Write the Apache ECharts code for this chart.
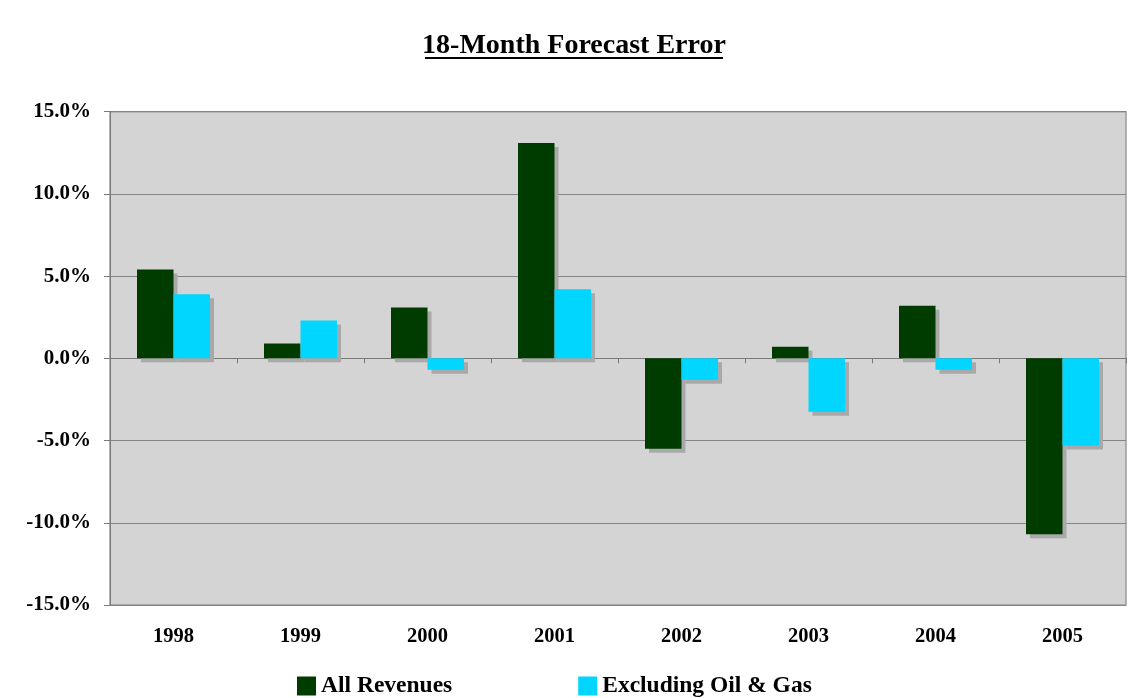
<!DOCTYPE html>
<html>
<head>
<meta charset="utf-8">
<script src="https://cdn.jsdelivr.net/npm/echarts@6/dist/echarts.min.js"></script>
<style>
html,body{margin:0;padding:0;background:#fff;}
#c{width:1133px;height:698px;}
</style>
</head>
<body>
<div id="c"></div>
<script>
var titleText = '18-Month Forecast Error';
var years = ['1998', '1999', '2000', '2001', '2002', '2003', '2004', '2005'];
var allRevenues = [5.4, 0.9, 3.1, 13.1, -5.5, 0.7, 3.2, -10.7];
var exclOilGas = [3.9, 2.3, -0.7, 4.2, -1.3, -3.25, -0.7, -5.3];
var seriesNames = ['All Revenues', 'Excluding Oil & Gas'];
var yMin = -15, yMax = 15, yStep = 5;

var FONT = '"Liberation Serif", "Times New Roman", serif';
var chart = echarts.init(document.getElementById('c'));
var shadow = { shadowColor: '#a9a9a9', shadowOffsetX: 4, shadowOffsetY: 4, shadowBlur: 0 };

chart.setOption({
  animation: false,
  backgroundColor: '#ffffff',
  graphic: [
    { type: 'text', x: 574, y: 45.5, z: 10,
      style: { text: titleText, font: 'bold 28px ' + FONT, fill: '#000',
               textAlign: 'center', textVerticalAlign: 'middle' } },
    { type: 'line', z: 10,
      shape: { x1: 425, y1: 58, x2: 723, y2: 58 },
      style: { stroke: '#000', lineWidth: 2 } }
  ],
  legend: {
    data: seriesNames,
    left: 297, top: 674, padding: 0,
    itemWidth: 19, itemHeight: 19, itemGap: 126,
    icon: 'rect',
    textStyle: { fontFamily: FONT, fontWeight: 'bold', fontSize: 23.5, lineHeight: 20, color: '#000' }
  },
  grid: {
    left: 110, top: 111.7, right: 7, bottom: 93,
    show: true, backgroundColor: '#d4d4d4', borderColor: '#9a9a9a', borderWidth: 1.5
  },
  xAxis: [
    { type: 'category', data: years, position: 'bottom',
      axisLine: { show: false, onZero: false }, axisTick: { show: false },
      axisLabel: { margin: 21, fontFamily: FONT, fontWeight: 'bold', fontSize: 20.5, color: '#000' } },
    { type: 'category', data: years, position: 'bottom',
      axisLine: { show: true, onZero: true, lineStyle: { color: '#7a7a7a', width: 1 } },
      axisTick: { show: true, length: 5, lineStyle: { color: '#7a7a7a' } },
      axisLabel: { show: false } }
  ],
  yAxis: {
    type: 'value', min: yMin, max: yMax, interval: yStep,
    axisLine: { show: true, lineStyle: { color: '#7a7a7a', width: 1 } },
    axisTick: { show: true, length: 6, lineStyle: { color: '#7a7a7a' } },
    splitLine: { show: true, lineStyle: { color: '#858585', width: 1 } },
    axisLabel: { margin: 19, fontFamily: FONT, fontWeight: 'bold', fontSize: 21, color: '#000',
      formatter: function (v) { return v.toFixed(1) + '%'; } }
  },
  series: [
    { name: seriesNames[0], type: 'bar', data: allRevenues, xAxisIndex: 0,
      barWidth: 36.5, barGap: '0%',
      itemStyle: Object.assign({ color: '#003c00' }, shadow) },
    { name: seriesNames[1], type: 'bar', data: exclOilGas, xAxisIndex: 0,
      barWidth: 36.5, barGap: '0%',
      itemStyle: Object.assign({ color: '#00d6ff' }, shadow) }
  ]
});
</script>
</body>
</html>
